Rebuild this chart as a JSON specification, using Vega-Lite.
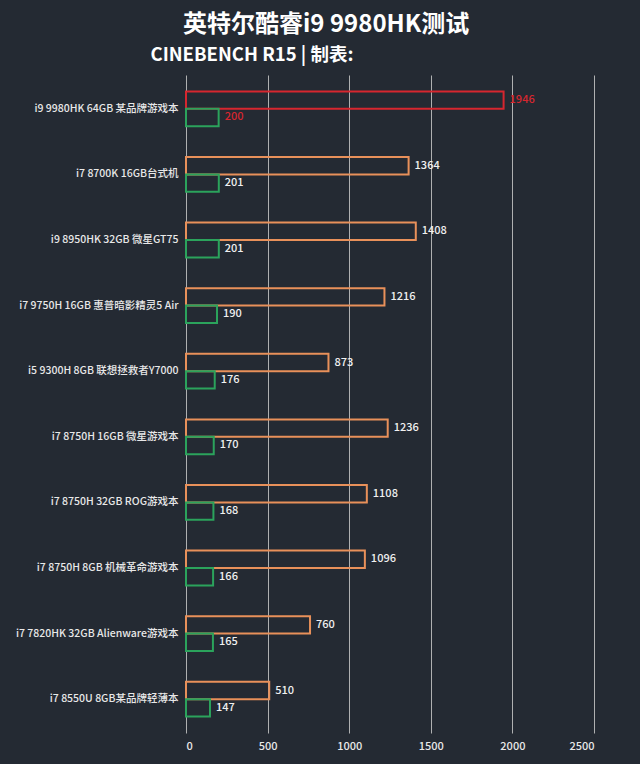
{
  "$schema": "https://vega.github.io/schema/vega-lite/v6.json",
  "width": 408,
  "height": 658,
  "autosize": {"type": "none"},
  "padding": {"left": 186, "top": 75, "right": 46, "bottom": 31},
  "background": "#242a33",
  "title": {
    "text": "英特尔酷睿i9 9980HK测试",
    "anchor": "start",
    "frame": "group",
    "dx": -3,
    "offset": -11,
    "baseline": "alphabetic",
    "fontSize": 24,
    "font": "Noto Sans CJK SC",
    "fontWeight": "bold",
    "color": "#ffffff"
  },
  "config": {"view": {"stroke": null}},
  "data": {
    "values": [
      {"cpu": "i9 9980HK 64GB 某品牌游戏本", "metric": "多核", "score": 1946},
      {"cpu": "i9 9980HK 64GB 某品牌游戏本", "metric": "单核", "score": 200},
      {"cpu": "i7 8700K 16GB台式机", "metric": "多核", "score": 1364},
      {"cpu": "i7 8700K 16GB台式机", "metric": "单核", "score": 201},
      {"cpu": "i9 8950HK 32GB 微星GT75", "metric": "多核", "score": 1408},
      {"cpu": "i9 8950HK 32GB 微星GT75", "metric": "单核", "score": 201},
      {"cpu": "i7 9750H 16GB 惠普暗影精灵5 Air", "metric": "多核", "score": 1216},
      {"cpu": "i7 9750H 16GB 惠普暗影精灵5 Air", "metric": "单核", "score": 190},
      {"cpu": "i5 9300H 8GB 联想拯救者Y7000", "metric": "多核", "score": 873},
      {"cpu": "i5 9300H 8GB 联想拯救者Y7000", "metric": "单核", "score": 176},
      {"cpu": "i7 8750H 16GB 微星游戏本", "metric": "多核", "score": 1236},
      {"cpu": "i7 8750H 16GB 微星游戏本", "metric": "单核", "score": 170},
      {"cpu": "i7 8750H 32GB ROG游戏本", "metric": "多核", "score": 1108},
      {"cpu": "i7 8750H 32GB ROG游戏本", "metric": "单核", "score": 168},
      {"cpu": "i7 8750H 8GB 机械革命游戏本", "metric": "多核", "score": 1096},
      {"cpu": "i7 8750H 8GB 机械革命游戏本", "metric": "单核", "score": 166},
      {"cpu": "i7 7820HK 32GB Alienware游戏本", "metric": "多核", "score": 760},
      {"cpu": "i7 7820HK 32GB Alienware游戏本", "metric": "单核", "score": 165},
      {"cpu": "i7 8550U 8GB某品牌轻薄本", "metric": "多核", "score": 510},
      {"cpu": "i7 8550U 8GB某品牌轻薄本", "metric": "单核", "score": 147}
    ]
  },
  "encoding": {
    "y": {
      "field": "cpu",
      "type": "nominal",
      "sort": null,
      "scale": {"paddingInner": 0.47, "paddingOuter": 0.25},
      "axis": {
        "title": "CINEBENCH R15 | 制表:",
        "titleAngle": 0,
        "titleAlign": "left",
        "titleBaseline": "middle",
        "titleX": -36,
        "titleY": -21,
        "titleFontSize": 18.5,
        "titleFontWeight": "bold",
        "titleFont": "Noto Sans CJK SC",
        "titleColor": "#ffffff",
        "domain": false,
        "ticks": false,
        "grid": false,
        "labelPadding": 8,
        "labelFontSize": 10.5,
        "labelFontWeight": 500,
        "labelFont": "Noto Sans CJK SC",
        "labelColor": "#e8e8e8",
        "labelLimit": 220
      }
    },
    "yOffset": {
      "field": "metric",
      "type": "nominal",
      "sort": ["多核", "单核"],
      "scale": {"paddingInner": 0, "paddingOuter": 0}
    },
    "x": {
      "field": "score",
      "type": "quantitative",
      "scale": {"domain": [0, 2500]},
      "axis": {
        "title": null,
        "values": [0, 500, 1000, 1500, 2000, 2500],
        "format": "d",
        "grid": true,
        "gridColor": "#c8c8c8",
        "gridWidth": 1,
        "gridOpacity": 0.85,
        "domain": false,
        "ticks": false,
        "labelPadding": 7,
        "labelFontSize": 11,
        "labelFontWeight": 500,
        "labelFont": "Noto Sans CJK SC",
        "labelColor": "#e8e8e8"
      }
    }
  },
  "layer": [
    {
      "mark": {"type": "bar", "filled": false, "strokeWidth": 2},
      "encoding": {
        "stroke": {
          "condition": {
            "test": "datum.cpu === 'i9 9980HK 64GB 某品牌游戏本' && datum.metric === '多核'",
            "value": "#d6262f"
          },
          "field": "metric",
          "type": "nominal",
          "scale": {"domain": ["多核", "单核"], "range": ["#e8905a", "#2ba35c"]},
          "legend": null
        }
      }
    },
    {
      "mark": {
        "type": "text",
        "align": "left",
        "baseline": "middle",
        "dx": 6,
        "fontSize": 11,
        "fontWeight": 500,
        "font": "Noto Sans CJK SC"
      },
      "encoding": {
        "text": {"field": "score", "type": "quantitative"},
        "color": {
          "condition": {
            "test": "datum.cpu === 'i9 9980HK 64GB 某品牌游戏本'",
            "value": "#d6262f"
          },
          "value": "#f0f0f0"
        }
      }
    }
  ]
}
